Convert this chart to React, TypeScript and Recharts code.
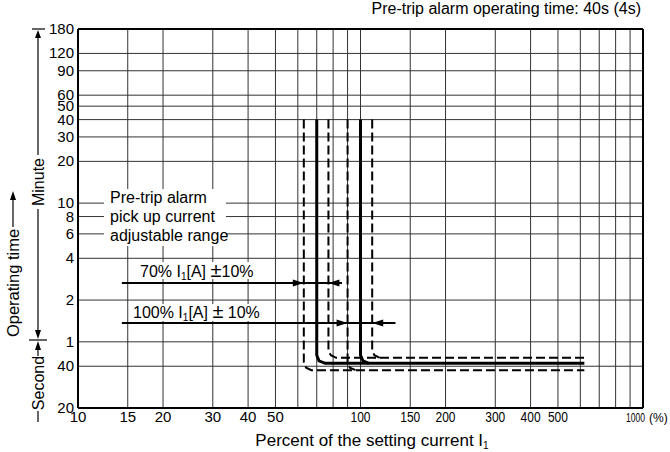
import React from 'react';
import { LineChart, Line, XAxis, YAxis, CartesianGrid, ReferenceLine } from 'recharts';

document.body.style.margin = '0';

const FONT = '"Liberation Sans", Arial, Helvetica, sans-serif';

// x: percent of the setting current (log), y: operating time in seconds (log)
const xTicks = [10, 15, 20, 30, 40, 50, 60, 70, 80, 90, 100, 150, 200, 300, 400, 500, 600, 700, 800, 900, 1000];
const xLabeled = [10, 15, 20, 30, 40, 50, 100, 150, 200, 300, 400, 500, 1000];
const yTicks = [20, 40, 60, 120, 240, 360, 480, 600, 1200, 1800, 2400, 3000, 3600, 5400, 7200, 10800];
const yTickLabels = ['20', '40', '1', '2', '4', '6', '8', '10', '20', '30', '40', '50', '60', '90', '120', '180'];

// pick-up curves for the 70% setting (63 / 70 / 77 %)
const curve63 = [{ x: 63, y: 2400 }, { x: 63, y: 42.5 }, { x: 64.2, y: 39 }, { x: 67, y: 37.5 }, { x: 620, y: 37.5 }];
const curve70 = [{ x: 70, y: 2400 }, { x: 70, y: 48 }, { x: 71.3, y: 43.7 }, { x: 75, y: 42 }, { x: 620, y: 42 }];
const curve77 = [{ x: 77, y: 2400 }, { x: 77, y: 52 }, { x: 78.5, y: 48 }, { x: 82, y: 46 }, { x: 620, y: 46 }];
// pick-up curves for the 100% setting (90 / 100 / 110 %)
const curve90 = [{ x: 90, y: 2400 }, { x: 90, y: 42.5 }, { x: 91.7, y: 39 }, { x: 96, y: 37.5 }];
const curve100 = [{ x: 100, y: 2400 }, { x: 100, y: 48 }, { x: 102, y: 43.7 }, { x: 107, y: 42 }];
const curve110 = [{ x: 110, y: 2400 }, { x: 110, y: 52 }, { x: 112, y: 48 }, { x: 117, y: 46 }];

// range arrows
const arrow70 = [{ x: 14.3, y: 159 }, { x: 63, y: 159, head: 'right' }, { x: 77, y: 159, head: 'left' }, { x: 86, y: 159 }];
const arrow100 = [{ x: 14.3, y: 82 }, { x: 90, y: 82, head: 'right' }, { x: 110, y: 82, head: 'left' }, { x: 133, y: 82 }];

const ArrowDot = (props: any) => {
  const { cx, cy, payload, index } = props;
  if (!payload || !payload.head || cx == null) return <g key={`a${index}`} />;
  const d = payload.head === 'right'
    ? `M${cx},${cy} L${cx - 11},${cy - 3.5} L${cx - 11},${cy + 3.5} Z`
    : `M${cx},${cy} L${cx + 11},${cy - 3.5} L${cx + 11},${cy + 3.5} Z`;
  return <path key={`a${index}`} d={d} fill="#000" />;
};

const XTick = (props: any) => {
  const { x, y, payload } = props;
  const v = payload.value;
  if (!xLabeled.includes(v)) return <g />;
  if (v === 1000) {
    return (
      <g fontFamily={FONT}>
        <text x={x - 17} y={y + 14} fontSize={13} textLength={19} lengthAdjust="spacingAndGlyphs">1000</text>
        <text x={x + 6} y={y + 14} fontSize={12}>(%)</text>
      </g>
    );
  }
  const narrow = v >= 100;
  return (
    <text x={x} y={y + 14} fontSize={15} textAnchor="middle" fontFamily={FONT}
      {...(narrow ? { textLength: 20, lengthAdjust: 'spacingAndGlyphs' } : {})}>
      {String(v)}
    </text>
  );
};

const YTick = (props: any) => {
  const { x, y, payload } = props;
  const i = yTicks.indexOf(payload.value);
  return (
    <text x={x} y={y + 5} fontSize={15} textAnchor="end" fontFamily={FONT}>
      {yTickLabels[i]}
    </text>
  );
};

const dashed = { stroke: '#000', strokeWidth: 2, strokeDasharray: '9 4', dot: false, activeDot: false, isAnimationActive: false, type: 'linear' as const };
const solid = { stroke: '#000', strokeWidth: 3, dot: false, activeDot: false, isAnimationActive: false, type: 'linear' as const };

export default function App() {
  return (
    <div style={{ position: 'relative', width: 670, height: 452, background: '#fff', fontFamily: FONT }}>
      <LineChart width={670} height={452} margin={{ top: 29, right: 27, bottom: 14, left: 0 }}>
        <CartesianGrid stroke="#333" strokeWidth={1} />
        <XAxis type="number" dataKey="x" scale="log" domain={[10, 1000]} allowDataOverflow ticks={xTicks}
          interval={0} height={30} tickSize={0} tickMargin={0} tick={<XTick />}
          axisLine={{ stroke: '#000', strokeWidth: 2 }} />
        <YAxis type="number" dataKey="y" scale="log" domain={[20, 10800]} allowDataOverflow ticks={yTicks}
          interval={0} width={78} tickSize={0} tickMargin={4} tick={<YTick />}
          axisLine={{ stroke: '#000', strokeWidth: 2 }} />
        <ReferenceLine y={10800} stroke="#000" strokeWidth={2} />
        <ReferenceLine x={1000} stroke="#000" strokeWidth={2} />
        <Line data={curve63} dataKey="y" {...dashed} />
        <Line data={curve70} dataKey="y" {...solid} />
        <Line data={curve77} dataKey="y" {...dashed} />
        <Line data={curve90} dataKey="y" {...dashed} />
        <Line data={curve100} dataKey="y" {...solid} />
        <Line data={curve110} dataKey="y" {...dashed} />
        <Line data={arrow70} dataKey="y" stroke="#000" strokeWidth={2} dot={ArrowDot} activeDot={false} isAnimationActive={false} />
        <Line data={arrow100} dataKey="y" stroke="#000" strokeWidth={2} dot={ArrowDot} activeDot={false} isAnimationActive={false} />
      </LineChart>

      <svg width={670} height={452} style={{ position: 'absolute', left: 0, top: 0, pointerEvents: 'none' }} fontFamily={FONT}>
        <text x={641} y={14} fontSize={16} textAnchor="end">Pre-trip alarm operating time: 40s (4s)</text>

        <rect x={104} y={189} width={122} height={57} fill="#fff" />
        <text x={110} y={203} fontSize={16}>Pre-trip alarm</text>
        <text x={110} y={222} fontSize={16}>pick up current</text>
        <text x={110} y={241} fontSize={16}>adjustable range</text>

        <rect x={136} y={262} width={128} height={17} fill="#fff" />
        <text x={140} y={277} fontSize={16}>
          70% I<tspan fontSize={10} dy={3}>1</tspan><tspan dy={-3}>[A] </tspan><tspan fontSize={20}>±</tspan>10%
        </text>
        <rect x={129} y={304} width={136} height={17} fill="#fff" />
        <text x={133} y={318} fontSize={16}>
          100% I<tspan fontSize={10} dy={3}>1</tspan><tspan dy={-3}>[A] </tspan><tspan fontSize={20}>±</tspan> 10%
        </text>

        <text x={372} y={446} fontSize={17} textAnchor="middle">
          Percent of the setting current I<tspan fontSize={10} dy={3}>1</tspan>
        </text>

        {/* Operating time */}
        <text transform="translate(13,283) rotate(-90)" textAnchor="middle" dominantBaseline="central" fontSize={16.5}>Operating time</text>
        <line x1={13} y1={199} x2={13} y2={227} stroke="#000" strokeWidth={1.2} />
        <path d="M13,191 L10,200 L16,200 Z" fill="#000" />

        {/* Minute */}
        <line x1={32} y1={29} x2={45} y2={29} stroke="#000" strokeWidth={1.2} />
        <path d="M38,30 L35,38 L41,38 Z" fill="#000" />
        <line x1={38} y1={37} x2={38} y2={155} stroke="#000" strokeWidth={1.2} />
        <text transform="translate(38,182) rotate(-90)" textAnchor="middle" dominantBaseline="central" fontSize={16}>Minute</text>
        <line x1={38} y1={209} x2={38} y2={332} stroke="#000" strokeWidth={1.2} />
        <path d="M38,339 L35,330 L41,330 Z" fill="#000" />
        <line x1={29} y1={340} x2={47} y2={340} stroke="#000" strokeWidth={1.2} />

        {/* Second */}
        <path d="M38,341 L35,350 L41,350 Z" fill="#000" />
        <line x1={38} y1={349} x2={38} y2={356} stroke="#000" strokeWidth={1.2} />
        <text transform="translate(38,383) rotate(-90)" textAnchor="middle" dominantBaseline="central" fontSize={16}>Second</text>
        <line x1={38} y1={411} x2={38} y2={422} stroke="#000" strokeWidth={1.2} />
      </svg>
    </div>
  );
}
